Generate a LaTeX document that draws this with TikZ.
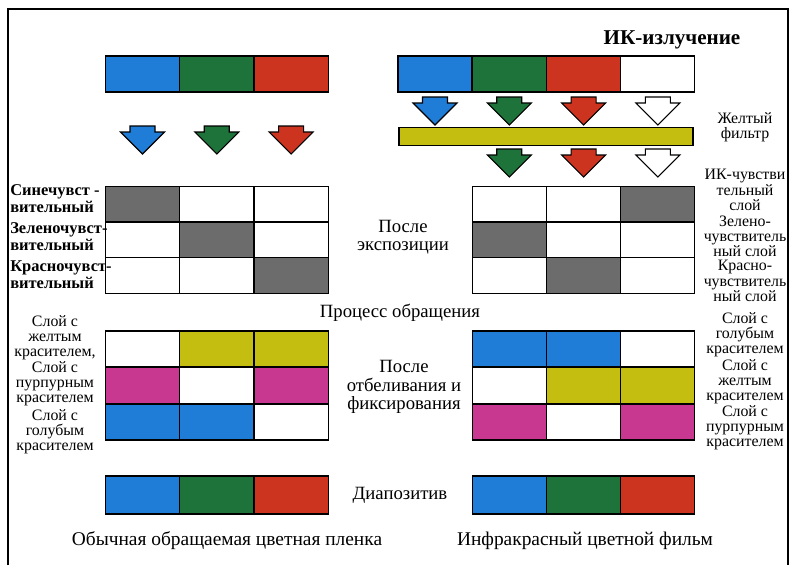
\documentclass[tikz,border=0pt]{standalone}
\usepackage{fontspec}
\setmainfont{Liberation Serif}
\usepackage{tikz}
\usetikzlibrary{positioning, calc}
\definecolor{myblue}{RGB}{32,125,215}
\definecolor{mygreen}{RGB}{30,115,58}
\definecolor{myred}{RGB}{205,52,32}
\definecolor{myyellow}{RGB}{196,190,16}
\definecolor{mymagenta}{RGB}{200,56,145}
\definecolor{mygray}{RGB}{108,108,108}
\newcommand\lblfont{\fontsize{11.3}{10.8}\selectfont}
\newcommand\sidefont{\fontsize{11.7}{12.2}\selectfont}
\newcommand\midfont{\fontsize{13.3}{13.2}\selectfont}
\newcommand\capfont{\fontsize{13.8}{14}\selectfont}
\tikzset{
  cell/.style={rectangle, draw=black, line width=0.8pt,
    minimum width=1.85cm, minimum height=0.9cm, inner sep=0pt},
  filterbar/.style={rectangle, draw=black, line width=0.8pt, fill=myyellow,
    minimum width=7.35cm, minimum height=0.43cm, inner sep=0pt},
  lbl/.style={font=\lblfont, align=center, inner sep=0pt},
  leftlbl/.style={font=\sidefont\bfseries, align=left, anchor=west, inner sep=0pt},
  midlbl/.style={font=\midfont, align=center, inner sep=0pt},
  fatarrow/.pic={
    \filldraw[fill=#1, draw=black, line width=0.8pt]
      (-12.5,0) -- (12.5,0) -- (12.5,6) -- (22,6) -- (0,28) -- (-22,6) -- (-12.5,6) -- cycle;
  }
}

\begin{document}
\begin{tikzpicture}[x=0.025cm, y=-0.025cm]
  \useasboundingbox (0,0) rectangle (800,565);

  % Frame
  \draw[line width=1pt] (8,565) -- (8,9) -- (788,9) -- (788,565);

  % Incoming light
  \foreach \c [count=\i] in {myblue,mygreen,myred}
    \node[cell, fill=\c] (lin-\i) at ({142.5+74.3*(\i-1)}, 74) {};
  \foreach \c [count=\i] in {myblue,mygreen,myred,white}
    \node[cell, fill=\c] (rin-\i) at ({435+74.3*(\i-1)}, 74) {};
  \node[lbl, font=\fontsize{15}{15}\selectfont\bfseries] (irlight) at (672,40) {ИК-излучение};

  % Arrows and filter
  \foreach \c [count=\i] in {myblue,mygreen,myred}
    \pic at ({142.5+74.3*(\i-1)}, 126) {fatarrow=\c};
  \foreach \c [count=\i] in {myblue,mygreen,myred,white}
    \pic at ({435+74.3*(\i-1)}, 97) {fatarrow=\c};
  \node[filterbar] (filter) at (546,136.5) {};
  \foreach \c [count=\i] in {mygreen,myred,white}
    \pic at ({509.3+74.3*(\i-1)}, 149) {fatarrow=\c};

  % After exposure
  \foreach \y/\a/\b/\c [count=\r] in {204.5/mygray/white/white, 240/white/mygray/white, 275.5/white/white/mygray}
    \foreach \col [count=\i] in {\a,\b,\c}
      \node[cell, fill=\col] (lexp-\r-\i) at ({142.5+74.3*(\i-1)}, \y) {};
  \foreach \y/\a/\b/\c [count=\r] in {204.5/white/white/mygray, 240/mygray/white/white, 275.5/white/mygray/white}
    \foreach \col [count=\i] in {\a,\b,\c}
      \node[cell, fill=\col] (rexp-\r-\i) at ({509.3+74.3*(\i-1)}, \y) {};

  % After bleaching
  \foreach \y/\a/\b/\c [count=\r] in {349/white/myyellow/myyellow, 385.5/mymagenta/white/mymagenta, 422/myblue/myblue/white}
    \foreach \col [count=\i] in {\a,\b,\c}
      \node[cell, fill=\col] (lbl-\r-\i) at ({142.5+74.3*(\i-1)}, \y) {};
  \foreach \y/\a/\b/\c [count=\r] in {349/myblue/myblue/white, 385.5/white/myyellow/myyellow, 422/mymagenta/white/mymagenta}
    \foreach \col [count=\i] in {\a,\b,\c}
      \node[cell, fill=\col] (rbl-\r-\i) at ({509.3+74.3*(\i-1)}, \y) {};

  % Slides
  \foreach \c [count=\i] in {myblue,mygreen,myred}
    \node[cell, fill=\c, minimum height=0.95cm] (lpos-\i) at ({142.5+74.3*(\i-1)}, 495) {};
  \foreach \c [count=\i] in {myblue,mygreen,myred}
    \node[cell, fill=\c, minimum height=0.95cm] (rpos-\i) at ({509.3+74.3*(\i-1)}, 495) {};

  % Left labels
  \node[leftlbl] (blue-sens) at (10,199) {Синечувст -\\вительный};
  \node[leftlbl] (green-sens) at (10,237) {Зеленочувст-\\вительный};
  \node[leftlbl] (red-sens) at (10,275) {Красночувст-\\вительный};
  \node[lbl] (l-yel) at (55,338) {Слой с\\желтым\\красителем,};
  \node[lbl] (l-mag) at (55,384) {Слой с\\пурпурным\\красителем};
  \node[lbl] (l-cyan) at (55,432) {Слой с\\голубым\\красителем};

  % Right labels
  \node[lbl] (yfilt) at (745,127) {Желтый\\фильтр};
  \node[lbl] (ir-sens) at (745,190) {ИК-чувстви\\тельный\\слой};
  \node[lbl] (r-green) at (745,236) {Зелено-\\чувствитель\\ный слой};
  \node[lbl] (r-red) at (745,281) {Красно-\\чувствитель\\ный слой};
  \node[lbl] (r-cyan) at (745,335) {Слой с\\голубым\\красителем};
  \node[lbl] (r-yel) at (745,382) {Слой с\\желтым\\красителем};
  \node[lbl] (r-mag) at (745,428) {Слой с\\пурпурным\\красителем};

  % Middle labels
  \node[midlbl] (exposed) at (403,237) {После\\экспозиции};
  \node[midlbl] (reversal) at (400,313) {Процесс обращения};
  \node[midlbl] (bleached) at (404,387) {После\\отбеливания и\\фиксирования};
  \node[midlbl] (slide) at (400,495) {Диапозитив};
  \node[midlbl, font=\capfont] (normal) at (227,541) {Обычная обращаемая цветная пленка};
  \node[midlbl, font=\capfont] (infra) at (585,541) {Инфракрасный цветной фильм};
\end{tikzpicture}
\end{document}
